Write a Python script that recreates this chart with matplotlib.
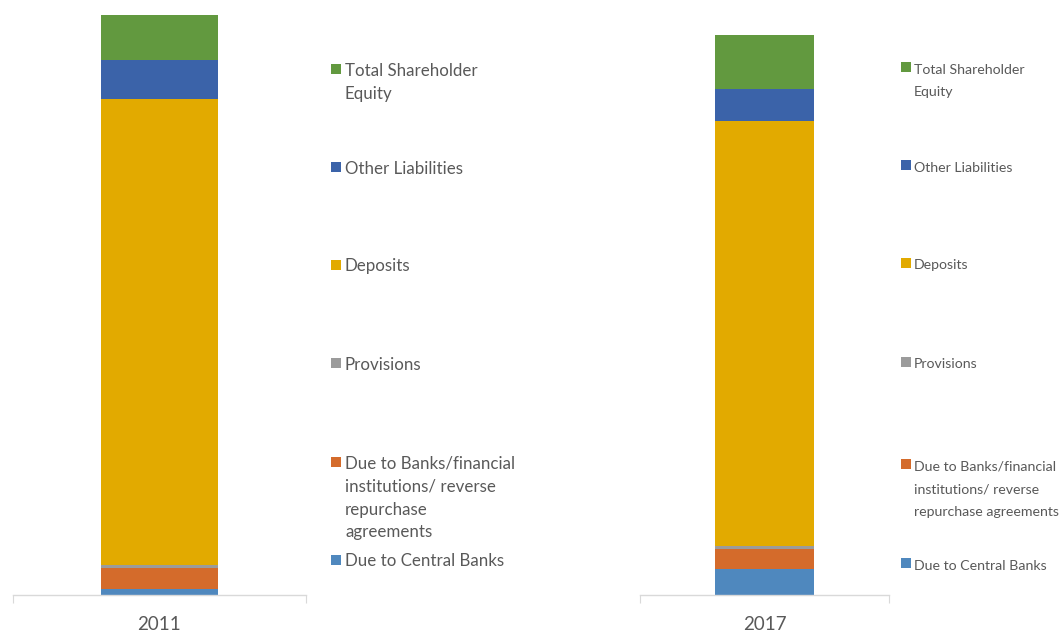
import numpy as np
import matplotlib
matplotlib.use('Agg')
import matplotlib.pyplot as plt
from matplotlib.patches import Rectangle

plt.rcParams['font.family'] = ['Lato', 'DejaVu Sans']

# liability mix, % of total, stacked bottom -> top
categories = ['Due to Central Banks',
              'Due to Banks/financial\ninstitutions/ reverse\nrepurchase\nagreements',
              'Provisions', 'Deposits', 'Other Liabilities',
              'Total Shareholder\nEquity']
labels_2017 = ['Due to Central Banks',
               'Due to Banks/financial\ninstitutions/ reverse\nrepurchase agreements',
               'Provisions', 'Deposits', 'Other Liabilities',
               'Total Shareholder\nEquity']
years = ['2011', '2017']
share_2011 = [1.0, 3.6, 0.5, 80.4, 6.7, 7.8]
share_2017 = [4.7, 3.6, 0.5, 75.9, 5.7, 9.6]
colors = ['#4F88BE', '#D46B2B', '#9B9B9B', '#E2AA00', '#3B63A9', '#62993F']

W, H = 1060, 632
fig = plt.figure(figsize=(W / 100, H / 100), dpi=100)

def rect(x0, y0, x1, y1):
    # pixel box (top-left origin) -> figure fraction
    return [x0 / W, 1 - y1 / H, (x1 - x0) / W, (y1 - y0) / H]

TXT = '#595959'
GRID = '#D9D9D9'

panels = [
    dict(year=years[0], vals=share_2011, labels=categories, box=(12.7, 15, 306, 594.7),
         lx=331, tx=344, ly=[69, 167, 265, 363, 462, 560], fs=12.2, lh=23),
    dict(year=years[1], vals=share_2017, labels=labels_2017, box=(640, 35, 889, 595.3),
         lx=901, tx=913, ly=[67, 165, 263, 362, 464, 563], fs=10.2, lh=22.5),
]

for p in panels:
    ax = fig.add_axes(rect(*p['box']))
    vals = np.array(p['vals'])
    bottoms = np.concatenate([[0], np.cumsum(vals)[:-1]])
    ax.bar(0, vals, bottom=bottoms, width=0.4, color=colors, linewidth=0)
    ax.set_xlim(-0.5, 0.5)
    ax.set_ylim(0, vals.sum())
    for s in ['top', 'left', 'right']:
        ax.spines[s].set_visible(False)
    ax.spines['bottom'].set_color(GRID)
    ax.spines['bottom'].set_linewidth(1)
    ax.set_yticks([])
    ax.set_xticks([-0.5, 0.5])
    ax.set_xticklabels(['', ''])
    ax.tick_params(axis='x', which='major', length=6, color=GRID, direction='out')
    ax.set_xticks([0], [p['year']], minor=True)
    ax.tick_params(axis='x', which='minor', length=0, pad=15, labelsize=13.5, labelcolor=TXT)

    # legend, top entry first; marker sits on the first line
    for i, (lab, col) in enumerate(zip(p['labels'][::-1], colors[::-1])):
        yc = p['ly'][i]
        fig.patches.append(Rectangle((p['lx'] / W, 1 - (yc + 5) / H), 10 / W, 10 / H,
                                     transform=fig.transFigure, color=col, linewidth=0))
        for j, line in enumerate(lab.split('\n')):
            fig.text((p['tx'] + 1) / W, 1 - (yc + 6.5 + j * p['lh']) / H, line,
                     fontsize=p['fs'], color=TXT, va='baseline', ha='left')

fig.savefig('out.png', dpi=100)
